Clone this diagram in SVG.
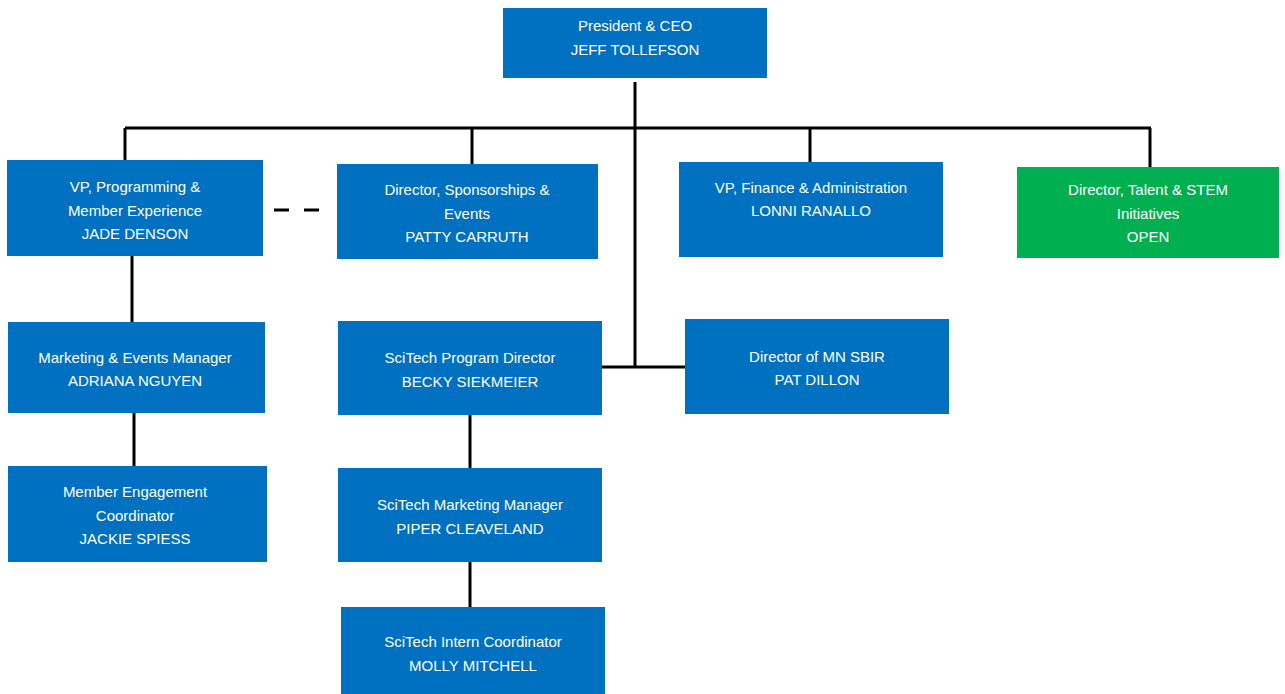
<svg xmlns="http://www.w3.org/2000/svg" width="1285" height="694" viewBox="0 0 1285 694">
<style>
.b{fill:#0070C0}
.g{fill:#00B050}
text{font-family:"Liberation Sans",Arial,sans-serif;font-size:15px;fill:#fff;text-anchor:middle}
.c line{stroke:#000;stroke-width:3}
</style>
<rect width="1285" height="694" fill="#fff"/>
<g class="c" id="connectors">
<line x1="635" y1="82" x2="635" y2="368"/>
<line x1="125" y1="128" x2="1151" y2="128"/>
<line x1="125" y1="128" x2="125" y2="160"/>
<line x1="472" y1="128" x2="472" y2="164"/>
<line x1="810" y1="128" x2="810" y2="162"/>
<line x1="1150" y1="128" x2="1150" y2="167"/>
<line x1="602" y1="367" x2="685" y2="367"/>
<line x1="132" y1="256" x2="132" y2="322"/>
<line x1="134" y1="413" x2="134" y2="466"/>
<line x1="470" y1="415" x2="470" y2="468"/>
<line x1="470" y1="562" x2="470" y2="607"/>
<line x1="274" y1="210" x2="320" y2="210" stroke-dasharray="15 15"/>
</g>
<g id="ceo"><rect class="b" x="503" y="8" width="264" height="70"/><text x="635" y="31">President &amp; CEO</text><text x="635" y="55">JEFF TOLLEFSON</text></g>
<g id="vp-programming"><rect class="b" x="7" y="160" width="256" height="96"/><text x="135" y="192">VP, Programming &amp;</text><text x="135" y="216">Member Experience</text><text x="135" y="239">JADE DENSON</text></g>
<g id="dir-sponsorships"><rect class="b" x="337" y="164" width="261" height="95"/><text x="467" y="195">Director, Sponsorships &amp;</text><text x="467" y="219">Events</text><text x="467" y="242">PATTY CARRUTH</text></g>
<g id="vp-finance"><rect class="b" x="679" y="162" width="264" height="95"/><text x="811" y="193">VP, Finance &amp; Administration</text><text x="811" y="216">LONNI RANALLO</text></g>
<g id="dir-talent"><rect class="g" x="1017" y="167" width="262" height="91"/><text x="1148" y="195">Director, Talent &amp; STEM</text><text x="1148" y="219">Initiatives</text><text x="1148" y="242">OPEN</text></g>
<g id="marketing-events"><rect class="b" x="8" y="322" width="257" height="91"/><text x="135" y="363">Marketing &amp; Events Manager</text><text x="135" y="386">ADRIANA NGUYEN</text></g>
<g id="scitech-program"><rect class="b" x="338" y="321" width="264" height="94"/><text x="470" y="363">SciTech Program Director</text><text x="470" y="387">BECKY SIEKMEIER</text></g>
<g id="mn-sbir"><rect class="b" x="685" y="319" width="264" height="95"/><text x="817" y="362">Director of MN SBIR</text><text x="817" y="385">PAT DILLON</text></g>
<g id="member-engagement"><rect class="b" x="8" y="466" width="259" height="96"/><text x="135" y="497">Member Engagement</text><text x="135" y="521">Coordinator</text><text x="135" y="544">JACKIE SPIESS</text></g>
<g id="scitech-marketing"><rect class="b" x="338" y="468" width="264" height="94"/><text x="470" y="510">SciTech Marketing Manager</text><text x="470" y="534">PIPER CLEAVELAND</text></g>
<g id="scitech-intern"><rect class="b" x="341" y="607" width="264" height="87"/><text x="473" y="647">SciTech Intern Coordinator</text><text x="473" y="671">MOLLY MITCHELL</text></g>
</svg>
